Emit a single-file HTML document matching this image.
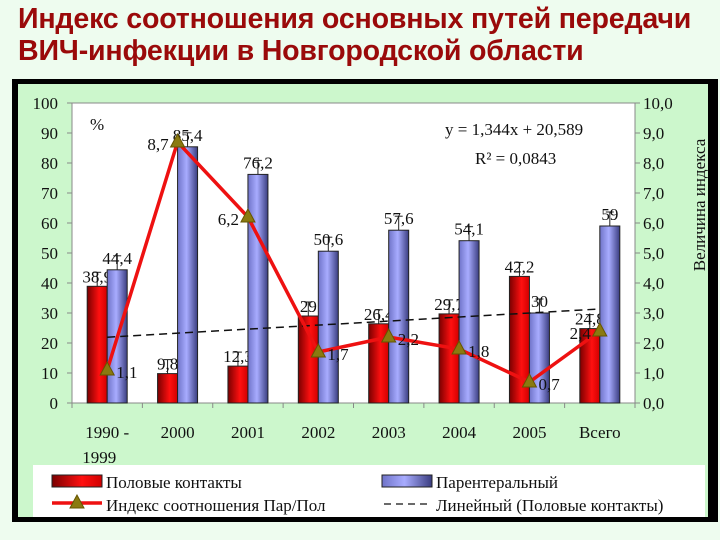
<!DOCTYPE html>
<html><head><meta charset="utf-8"><style>
body{margin:0;width:720px;height:540px;background:#eefcef;overflow:hidden;font-family:"Liberation Sans",sans-serif}
#title{position:absolute;left:18px;top:3px;color:#9a0a0a;font-weight:bold;font-size:28.6px;line-height:32px;letter-spacing:-0.2px;white-space:nowrap}
svg{position:absolute;left:0;top:0}
text{font-family:"Liberation Serif",serif;font-size:17px;fill:#111}
</style></head><body>
<div id="title">Индекс соотношения основных путей передачи<br>ВИЧ-инфекции в Новгородской области</div>
<svg id="c" width="720" height="540">
<defs>
<linearGradient id="gr" x1="0" x2="1"><stop offset="0" stop-color="#7a0000"/><stop offset="0.6" stop-color="#ff1010"/><stop offset="1" stop-color="#d00000"/></linearGradient>
<linearGradient id="gb" x1="0" x2="1"><stop offset="0" stop-color="#6f73c8"/><stop offset="0.45" stop-color="#a8acff"/><stop offset="1" stop-color="#3a3d80"/></linearGradient>
</defs>
<rect x="12" y="79" width="706" height="443" fill="#000"/>
<rect x="18" y="84" width="690" height="433" fill="#ccf7cc"/>
<rect x="72" y="103" width="563" height="300" fill="#fff" stroke="#888"/>
<rect x="33" y="465" width="672" height="52" fill="#fff"/>
<g id="g"></g>
</svg>
<script>
const categories=["1990 -|1999","2000","2001","2002","2003","2004","2005","Всего"];
const sexual=[38.9,9.8,12.3,29,26.4,29.7,42.2,24.8];
const parenteral=[44.4,85.4,76.2,50.6,57.6,54.1,30,59];
const ratio=[1.1,8.7,6.2,1.7,2.2,1.8,0.7,2.4];
const leftTicks=[0,10,20,30,40,50,60,70,80,90,100];
const rightTicks=["0,0","1,0","2,0","3,0","4,0","5,0","6,0","7,0","8,0","9,0","10,0"];
const trendSlope=1.344, trendIntercept=20.589;
const L=72,R=635,T=103,B=403;
const cw=(R-L)/categories.length;
const yL=v=>B-(v/100)*(B-T);
const yR=v=>B-(v/10)*(B-T);
const cx=i=>L+cw*(i+0.5);
const g=document.getElementById('g');
const NS="http://www.w3.org/2000/svg";
function mk(t,a,txt){const e=document.createElementNS(NS,t);for(const k in a)e.setAttribute(k,a[k]);if(txt!==undefined)e.textContent=txt;g.appendChild(e);return e;}
leftTicks.forEach((v,i)=>{
 let e=mk('text',{x:58,y:yL(v)+6,'text-anchor':'end'},v);
 
 
 e=mk('text',{x:643,y:yL(v)+6},rightTicks[i]);
 
 
 mk('line',{x1:L-5,x2:L,y1:yL(v),y2:yL(v),stroke:'#888'});
 mk('line',{x1:R,x2:R+5,y1:yL(v),y2:yL(v),stroke:'#888'});
});
for(let i=0;i<=categories.length;i++)mk('line',{x1:L+cw*i,x2:L+cw*i,y1:B,y2:B+5,stroke:'#888'});
categories.forEach((c,i)=>{
 const p=c.split('|');
 p.forEach((s,j)=>{const e=mk('text',{x:cx(i)-(p.length>1&&j==1?8:0),y:438+j*25,'text-anchor':'middle'},s);
 
 });
});
const bw=20;
categories.forEach((c,i)=>{
 let y=yL(sexual[i]);
 let e=mk('rect',{x:cx(i)-bw,y:y,width:bw,height:B-y,fill:'url(#gr)',stroke:'#222','stroke-width':1});
 
 
 mk('line',{x1:cx(i)-bw/2,x2:cx(i)-bw/2,y1:y,y2:y-14,stroke:'#222'});
 mk('line',{x1:cx(i)-bw/2-4,x2:cx(i)-bw/2+4,y1:y-14,y2:y-14,stroke:'#222'});
 e=mk('text',{x:cx(i)-bw/2,y:y-4,'text-anchor':'middle'},String(sexual[i]).replace('.',','));
 
 
 y=yL(parenteral[i]);
 e=mk('rect',{x:cx(i),y:y,width:bw,height:B-y,fill:'url(#gb)',stroke:'#222','stroke-width':1});
 
 
 mk('line',{x1:cx(i)+bw/2,x2:cx(i)+bw/2,y1:y,y2:y-14,stroke:'#222'});
 mk('line',{x1:cx(i)+bw/2-4,x2:cx(i)+bw/2+4,y1:y-14,y2:y-14,stroke:'#222'});
 e=mk('text',{x:cx(i)+bw/2,y:y-6,'text-anchor':'middle'},String(parenteral[i]).replace('.',','));
 
 
});
const x1=cx(0),x2=cx(categories.length-1);
let t=mk('line',{x1:x1,x2:x2,y1:yL(trendSlope*1+trendIntercept),y2:yL(trendSlope*categories.length+trendIntercept),stroke:'#111','stroke-width':1.5,'stroke-dasharray':'8,5'});


let pl=mk('polyline',{points:ratio.map((v,i)=>cx(i)+','+yR(v)).join(' '),fill:'none',stroke:'#ee1111','stroke-width':3.5});


ratio.forEach((v,i)=>{
 const x=cx(i),y=yR(v);
 let e=mk('polygon',{points:`${x},${y-8} ${x-7},${y+5} ${x+7},${y+5}`,fill:'#8a7a10',stroke:'#665500'});
 
 
 const left=(i==1||i==2||i==7);
 e=mk('text',{x:left?x-9:x+9,y:y+(left?8:8),'text-anchor':left?'end':'start'},String(v).replace('.',','));
 
 
});
let e;
e=mk('text',{x:90,y:130},'%');
e=mk('text',{x:445,y:135},'y = 1,344x + 20,589');
e=mk('text',{x:475,y:164},'R² = 0,0843');
e=mk('text',{x:0,y:0,transform:'translate(705,205) rotate(-90)','text-anchor':'middle'},'Величина индекса');
mk('rect',{x:52,y:475,width:50,height:12,fill:'url(#gr)',stroke:'#222'});
e=mk('text',{x:106,y:488,'font-size':18},'Половые контакты');
mk('rect',{x:382,y:475,width:50,height:12,fill:'url(#gb)',stroke:'#222'});
e=mk('text',{x:436,y:488,'font-size':18},'Парентеральный');
mk('line',{x1:52,x2:102,y1:503,y2:503,stroke:'#ee1111','stroke-width':3.5});
mk('polygon',{points:'77,495 70,508 84,508',fill:'#8a7a10',stroke:'#665500'});
e=mk('text',{x:106,y:511,'font-size':18},'Индекс соотношения Пар/Пол');
mk('line',{x1:384,x2:432,y1:504,y2:504,stroke:'#111','stroke-width':1.3,'stroke-dasharray':'7,5'});
e=mk('text',{x:436,y:511,'font-size':18},'Линейный (Половые контакты)');
</script>
</body></html>
